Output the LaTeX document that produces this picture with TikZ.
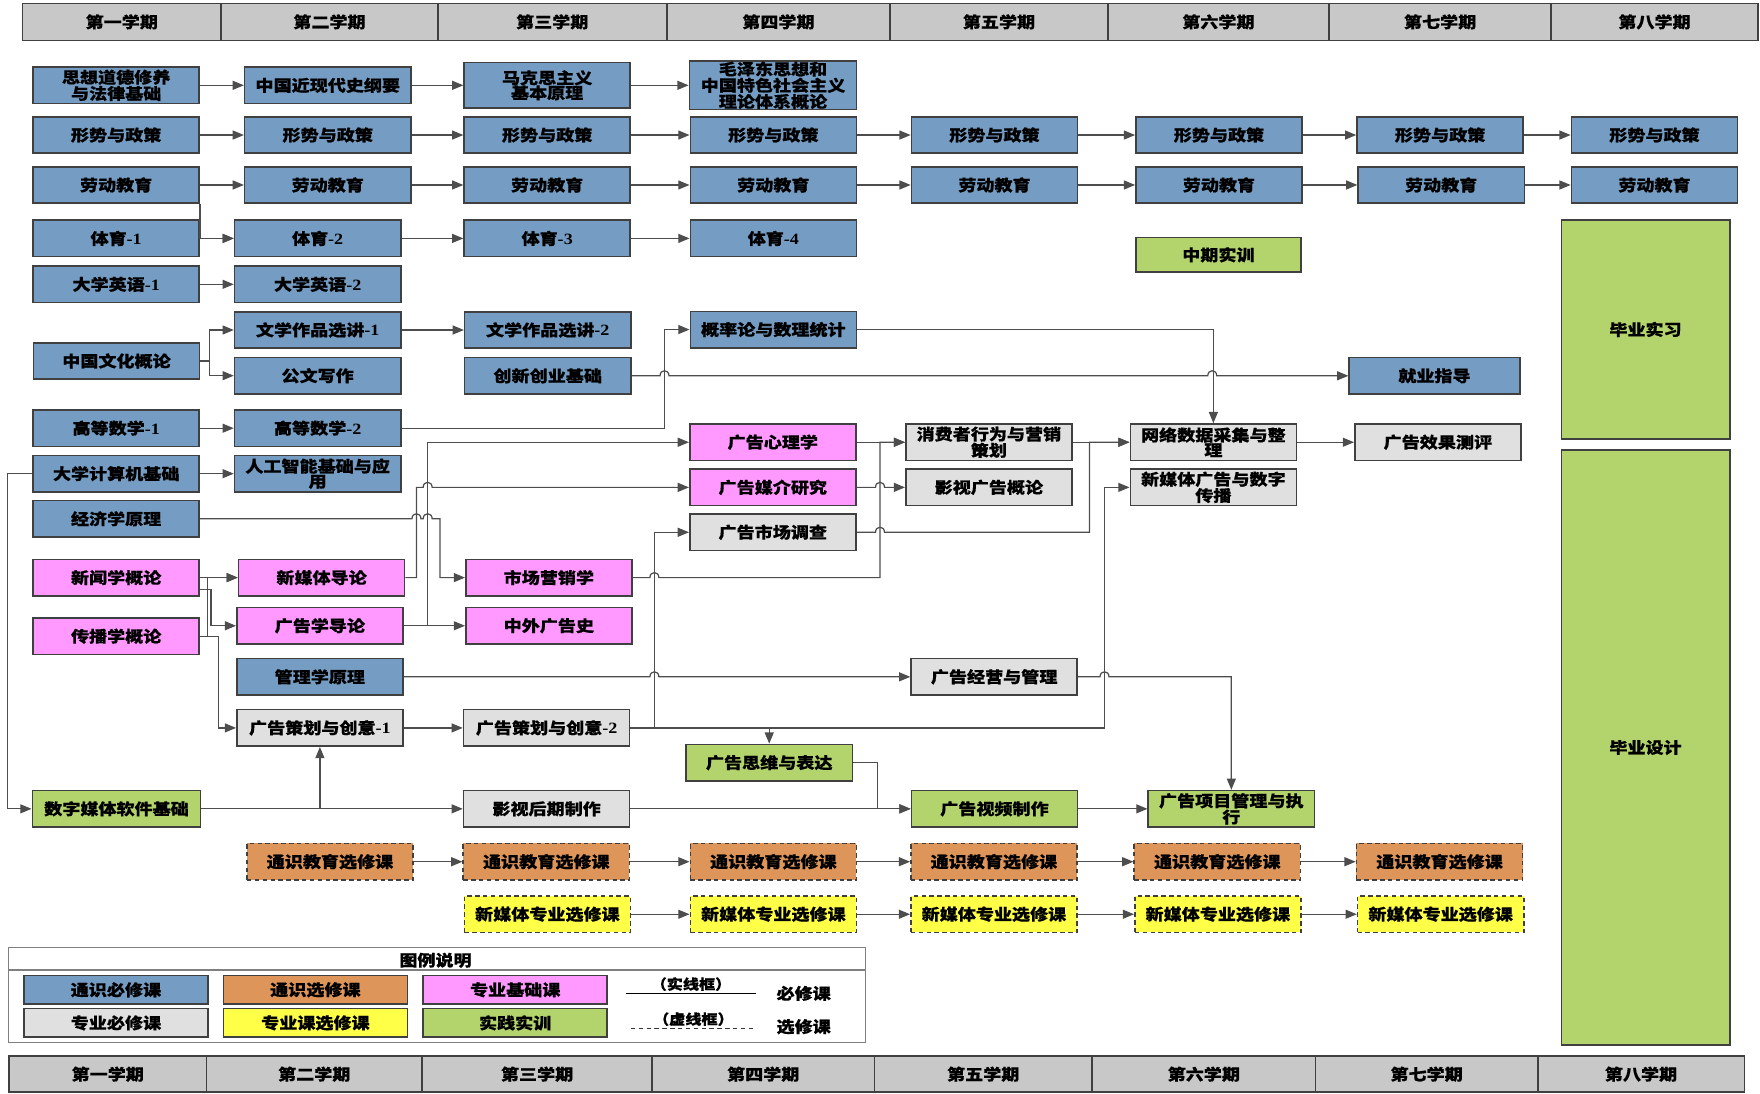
\documentclass[tikz,border=0pt]{standalone}
\usepackage{fontspec}
\setmainfont{Noto Sans CJK SC}[FakeStretch=1.15,BoldFeatures={FakeBold=0.5}]
\newfontfamily\latinfont{Liberation Serif}[FakeStretch=1.15]
\usetikzlibrary{arrows.meta,calc}

\definecolor{tbblue}{HTML}{759CC2}
\definecolor{txorange}{HTML}{DE955A}
\definecolor{zjpink}{HTML}{FF99FF}
\definecolor{zbgray}{HTML}{E0E0E0}
\definecolor{zxyellow}{HTML}{FFFF48}
\definecolor{sjgreen}{HTML}{B3D46C}
\definecolor{headgray}{HTML}{C8C8C8}
\definecolor{bdgray}{HTML}{404040}
\definecolor{lngray}{HTML}{4D4D4D}

% Latin part of a course number
\newcommand\nm[1]{{\latinfont -#1}}

\begin{document}
\begin{tikzpicture}[x=1pt,y=-1pt,
    kbox/.style={draw=bdgray,line width=1.4pt,minimum width=148pt,minimum height=32.5pt,
      inner sep=0pt,align=center,text=black,font=\fontsize{14}{13.4}\selectfont\bfseries},
    tongbi/.style={kbox,fill=tbblue},
    tongxuan/.style={kbox,fill=txorange,dashed,dash pattern=on 4pt off 3pt},
    zhuanji/.style={kbox,fill=zjpink},
    zhuanbi/.style={kbox,fill=zbgray},
    zhuanxuan/.style={kbox,fill=zxyellow,dashed,dash pattern=on 4pt off 3pt},
    shijian/.style={kbox,fill=sjgreen},
    hcell/.style={kbox,fill=headgray,minimum height=33pt},
    lgbox/.style={kbox,minimum width=164pt,minimum height=25.5pt},
    lgtext/.style={inner sep=1pt,font=\fontsize{14}{14}\selectfont\bfseries},
    link/.style={draw=lngray,line width=1.1pt,-{Triangle[length=10pt,width=8pt]}},
    hop/.style args={#1,#2}{insert path={-- ({#1-4},#2) .. controls ({#1-4},{#2-6}) and ({#1+4},{#2-6}) .. ({#1+4},#2)}}
  ]
  \useasboundingbox (0,0) rectangle (1568,974);

  % semester headers
  \foreach \a/\b/\t [count=\i] in {20/197/第一学期,197/390/第二学期,390/594/第三学期,594/793/第四学期,
      793/987/第五学期,987/1184/第六学期,1184/1382/第七学期,1382/1566/第八学期}{
    \node[hcell,minimum width={\b-\a}] (h\i) at ({(\a+\b)/2},19.5) {\t};
  }
  \foreach \a/\b/\t [count=\i] in {8/184/第一学期,184/376/第二学期,376/581/第三学期,581/779/第四学期,
      779/973/第五学期,973/1172/第六学期,1172/1370/第七学期,1370/1554/第八学期}{
    \node[hcell,minimum height=32pt,minimum width={\b-\a}] (f\i) at ({(\a+\b)/2},957) {\t};
  }

  % political courses
  \node[tongbi] (sx) at (103.5,76) {思想道德修养\\与法律基础};
  \node[tongbi] (gs) at (292,76) {中国近现代史纲要};
  \node[tongbi,minimum height=40.5pt] (mk) at (487.5,76) {马克思主义\\基本原理};
  \node[tongbi,minimum width=149pt,minimum height=43pt] (mz) at (688.7,76) {毛泽东思想和\\中国特色社会主义\\理论体系概论};
  \draw[link] (sx) -- (gs);
  \draw[link] (gs) -- (mk);
  \draw[link] (mk) -- (mz);

  \foreach \x [count=\i] in {103.5,292,487.5,689,886,1086,1283,1474}{
    \node[tongbi] (xs\i) at (\x,120.3) {形势与政策};
  }
  \foreach \x [count=\i] in {103.5,292,487.5,689,886,1086,1284,1474}{
    \node[tongbi] (ld\i) at (\x,164.8) {劳动教育};
  }
  \foreach \i [count=\j from 2] in {1,...,7}{
    \draw[link] (xs\i) -- (xs\j);
    \draw[link] (ld\i) -- (ld\j);
  }

  % sports and english
  \node[tongbi] (ty1) at (103.5,212.4) {体育\nm{1}};
  \node[tongbi] (ty2) at (283,212.4) {体育\nm{2}};
  \node[tongbi] (ty3) at (487.5,212.4) {体育\nm{3}};
  \node[tongbi] (ty4) at (689,212.4) {体育\nm{4}};
  \draw[link] (ld1.south east) |- (ty2.west);
  \draw[link] (ty1) -- (ty2);
  \draw[link] (ty2) -- (ty3);
  \draw[link] (ty3) -- (ty4);
  \node[tongbi] (yy1) at (103.5,253.3) {大学英语\nm{1}};
  \node[tongbi] (yy2) at (283,253.3) {大学英语\nm{2}};
  \draw[link] (yy1) -- (yy2);

  \node[shijian,minimum width=147pt,minimum height=31pt] (zqsx) at (1085.5,227) {中期实训};
  \node[shijian,minimum width=150pt,minimum height=195pt] (bysx) at (1466,293.5) {毕业实习};
  \node[shijian,minimum width=150pt,minimum height=530pt] (bysj) at (1466,666) {毕业设计};

  % culture, writing, maths
  \node[tongbi] (wh) at (103.8,321.6) {中国文化概论};
  \node[tongbi] (wx1) at (283,294) {文学作品选讲\nm{1}};
  \node[tongbi] (gw) at (283,334.7) {公文写作};
  \node[tongbi] (wx2) at (488,294) {文学作品选讲\nm{2}};
  \node[tongbi] (cx) at (488,334.8) {创新创业基础};
  \node[tongbi] (gl) at (689,293.6) {概率论与数理统计};
  \node[tongbi,minimum width=152pt] (jy) at (1278,334.8) {就业指导};
  \draw[link] (wh.east) -- ++(8,0) |- (wx1.west);
  \draw[link] (wh.east) -- ++(8,0) |- (gw.west);
  \draw[link] (wx1) -- (wx2);
  \draw[link] (cx.east) [hop={592,334.8}] [hop={1080,334.8}] -- (jy.west);

  \node[tongbi] (gs1) at (103.5,381.5) {高等数学\nm{1}};
  \node[tongbi] (gs2) at (283,381.5) {高等数学\nm{2}};
  \draw[link] (gs1) -- (gs2);
  \draw[link] (gs2.east) -- (592,381.5) |- (gl.west);

  \node[tongbi] (jsj) at (103.5,422) {大学计算机基础};
  \node[tongbi] (rgzn) at (283,422) {人工智能基础与应\\用};
  \node[tongbi] (jjx) at (103.5,462.2) {经济学原理};
  \draw[link] (jsj) -- (rgzn);

  % major basics
  \node[zhuanji] (xwx) at (103.5,514.6) {新闻学概论};
  \node[zhuanji] (cbx) at (103.5,566.8) {传播学概论};
  \node[zhuanji] (xmt) at (286.5,514.6) {新媒体导论};
  \node[zhuanji] (gxd) at (285,557.5) {广告学导论};
  \node[zhuanji] (scyx) at (489,514.6) {市场营销学};
  \node[zhuanji] (zwgs) at (489,557.5) {中外广告史};
  \node[zhuanji] (gxl) at (688.5,394) {广告心理学};
  \node[zhuanji] (gmj) at (688.5,434.2) {广告媒介研究};
  \node[tongbi] (glx) at (285,603) {管理学原理};

  % major courses
  \node[zhuanbi] (gsd) at (688.5,474.2) {广告市场调查};
  \node[zhuanbi] (xfz) at (881,394) {消费者行为与营销\\策划};
  \node[zhuanbi] (ysg) at (881,434.2) {影视广告概论};
  \node[zhuanbi] (wl) at (1081,394) {网络数据采集与整\\理};
  \node[zhuanbi] (xmg) at (1081,434.2) {新媒体广告与数字\\传播};
  \node[zhuanbi] (gxc) at (1281,394) {广告效果测评};
  \node[zhuanbi] (gjy) at (885.7,603) {广告经营与管理};
  \node[zhuanbi] (gch1) at (285,648.5) {广告策划与创意\nm{1}};
  \node[zhuanbi] (gch2) at (487,648.5) {广告策划与创意\nm{2}};
  \node[zhuanbi] (ysh) at (487,720.6) {影视后期制作};

  % practice
  \node[shijian,minimum width=150pt] (szmt) at (103.8,720.6) {数字媒体软件基础};
  \node[shijian] (gsw) at (685.3,679.5) {广告思维与表达};
  \node[shijian] (gsp) at (886,720.6) {广告视频制作};
  \node[shijian] (gxm) at (1097,720.6) {广告项目管理与执\\行};

  \draw[link] (gl.east) -| (wl.north);
  \draw[link] (jsj.west) -- (7,422) |- (szmt.west);
  \draw[link] (jjx.east) [hop={371,462.2}] [hop={381,462.2}] -- (392,462.2) |- (scyx.west);
  \draw[link] (xwx) -- (xmt);
  \draw[link] (cbx.east) -- (185,566.8) |- (xmt.west);
  \draw[link] ($(xwx.east)+(0,10.5)$) -- (188,525.1) |- (gxd.west);
  \draw[link] (cbx.east) -- (195,566.8) |- (gch1.west);
  \draw[link] (xmt.east) -- (371,514.6) -- (371,434.2) [hop={381,434.2}] -- (gmj.west);
  \draw[link] (gxd) -- (zwgs);
  \draw[link] (gxd.east) -- (381,557.5) |- (gxl.west);
  \draw[link] (glx.east) [hop={583,603}] -- (gjy.west);
  \draw[link] (gjy.east) [hop={984,603}] -| (gxm.north);
  \draw[link] (gch1) -- (gch2);
  \draw[link] (gch2.east) -- (583,648.5) |- (gsd.west);
  \draw[link] (gch2.east) -| (gsw.north);
  \draw[link] (gch2.east) -- (984,648.5) |- (xmg.west);
  \draw[link] (szmt.east) -| (gch1.south);
  \draw[link] (szmt) -- (ysh);
  \draw[link] (ysh) -- (gsp);
  \draw[link] (gsw.east) -- (781.6,679.5) |- (gsp.west);
  \draw[link] (gsp) -- (gxm);
  \draw[link] (gxl) -- (xfz);
  \draw[link] (scyx.east) [hop={583,514.6}] -- (784,514.6) |- (xfz.west);
  \draw[link] (gmj.east) [hop={784,434.2}] -- (ysg.west);
  \draw[link] (gsd.east) [hop={784,474.2}] -- (970.6,474.2) |- (wl.west);
  \draw[link] (xfz) -- (wl);
  \draw[link] (wl) -- (gxc);

  % electives
  \foreach \x [count=\i] in {294,486.7,689,885.5,1084.5,1282.5}{
    \node[tongxuan] (tx\i) at (\x,767.7) {通识教育选修课};
  }
  \foreach \x [count=\i] in {487.7,689,885.5,1085,1283.5}{
    \node[zhuanxuan] (zx\i) at (\x,814.5) {新媒体专业选修课};
  }
  \foreach \i [count=\j from 2] in {1,...,5}{
    \draw[link] (tx\i) -- (tx\j);
  }
  \foreach \i [count=\j from 2] in {1,...,4}{
    \draw[link] (zx\i) -- (zx\j);
  }

  % legend
  \draw[gray,line width=1.2pt] (7.7,844) rectangle (771.2,929);
  \draw[gray,line width=1.2pt] (7.7,864.2) -- (771.2,864.2);
  \node[lgtext] (lgt) at (388,855.5) {图例说明};
  \node[lgbox,fill=tbblue] (lg1) at (103.3,881.8) {通识必修课};
  \node[lgbox,fill=zbgray] (lg2) at (103.3,911.3) {专业必修课};
  \node[lgbox,fill=txorange] (lg3) at (281,881.8) {通识选修课};
  \node[lgbox,fill=zxyellow] (lg4) at (281,911.3) {专业课选修课};
  \node[lgbox,fill=zjpink] (lg5) at (459,881.8) {专业基础课};
  \node[lgbox,fill=sjgreen] (lg6) at (459,911.3) {实践实训};
  \coordinate (sa) at (557.7,885);
  \coordinate (sb) at (673.5,885);
  \coordinate (da) at (562,916.2);
  \coordinate (db) at (673.5,916.2);
  \draw[black,line width=1.1pt] (sa) -- (sb);
  \draw[black!80,line width=1.1pt,dash pattern=on 4pt off 3pt] (da) -- (db);
  \node[lgtext,font=\fontsize{12.5}{12.5}\selectfont\bfseries,anchor=south] (lgs) at ($(sa)!0.5!(sb)+(0,-1)$) {（实线框）};
  \node[lgtext,font=\fontsize{12.5}{12.5}\selectfont\bfseries,anchor=south] (lgd) at ($(da)!0.5!(db)+(0,-1)$) {（虚线框）};
  \node[lgtext] (lbx) at (716,885) {必修课};
  \node[lgtext] (lxx) at (716,914.7) {选修课};
\end{tikzpicture}
\end{document}
